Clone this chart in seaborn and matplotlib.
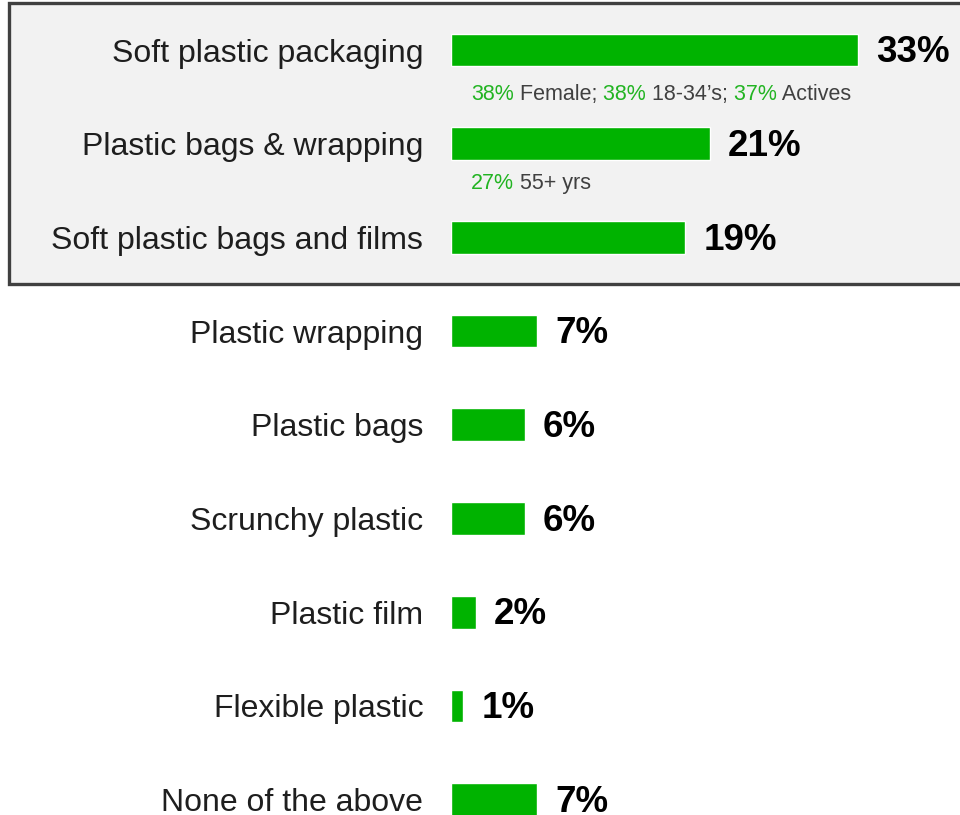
import matplotlib
matplotlib.use("Agg")
import matplotlib.pyplot as plt
from matplotlib.patches import Rectangle
import seaborn as sns
import pandas as pd

# Survey answers and share of respondents (%)
categories = [
    "Soft plastic packaging",
    "Plastic bags & wrapping",
    "Soft plastic bags and films",
    "Plastic wrapping",
    "Plastic bags",
    "Scrunchy plastic",
    "Plastic film",
    "Flexible plastic",
    "None of the above",
]
values = [33, 21, 19, 7, 6, 6, 2, 1, 7]

# Sub-group call-outs shown beneath the leading answers: (category index, [(value, group), ...])
callout_rows = [0, 1]
callout_parts = [
    [("38%", "Female;"), ("38%", "18-34\u2019s;"), ("37%", "Actives")],
    [("27%", "55+ yrs")],
]
# baseline of each call-out line, below its bar centre (in category units)
callout_drop = [0.535, 0.48]

BAR_GREEN = "#00b300"
NOTE_GREEN = "#22b422"
NOTE_GREY = "#404040"
LABEL_COLOR = "#1e1e1e"

sns.set_theme(style="white")
plt.rcParams["font.family"] = ["Liberation Sans", "DejaVu Sans"]

df = pd.DataFrame({"category": categories, "value": values})

fig = plt.figure(figsize=(9.6, 8.15), dpi=100, facecolor="white")

# Highlight panel behind the top three answers
panel = Rectangle((8.5 / 960, 1 - 283.5 / 815), 1.2, 281 / 815,
                  transform=fig.transFigure, facecolor="#f2f2f2",
                  edgecolor="#404040", linewidth=2.4, zorder=-1)
fig.patches.append(panel)

ax = fig.add_axes([451 / 960, 0, 1 - 451 / 960, 1])
ax.set_facecolor("none")

sns.barplot(data=df, x="value", y="category", orient="h", color=BAR_GREEN,
            saturation=1, width=0.35, ax=ax, order=categories)

ax.set_xlim(0, 509 / 12.33)
ax.set_ylim(8 + 15.4 / 93.7, -50 / 93.7)
for s in ax.spines.values():
    s.set_visible(False)
ax.set_xticks([])
ax.set_xlabel("")
ax.set_ylabel("")
ax.tick_params(axis="y", length=0, pad=20, labelsize=23, labelcolor=LABEL_COLOR)

# Value labels at the bar ends
for i, v in enumerate(values):
    ax.annotate(f"{v}%", xy=(v, i), xytext=(13, -2), textcoords="offset points",
                ha="left", va="center", fontsize=26.5, fontweight="bold",
                color="black")

# Coloured call-outs: green figures followed by grey group names
for row, drop, parts in zip(callout_rows, callout_drop, callout_parts):
    segments = []
    for k, (num, grp) in enumerate(parts):
        segments.append((("" if k == 0 else " ") + num, NOTE_GREEN))
        segments.append((" " + grp, NOTE_GREY))
    prev = None
    for txt, col in segments:
        if prev is None:
            prev = ax.annotate(txt, xy=(0, row + drop), xytext=(14.5, 0),
                               textcoords="offset points", ha="left",
                               va="baseline", fontsize=15.5, color=col)
        else:
            prev = ax.annotate(txt, xy=(1, 0), xycoords=prev, ha="left",
                               va="bottom", fontsize=15.5, color=col)

fig.savefig("out.png", dpi=100)
